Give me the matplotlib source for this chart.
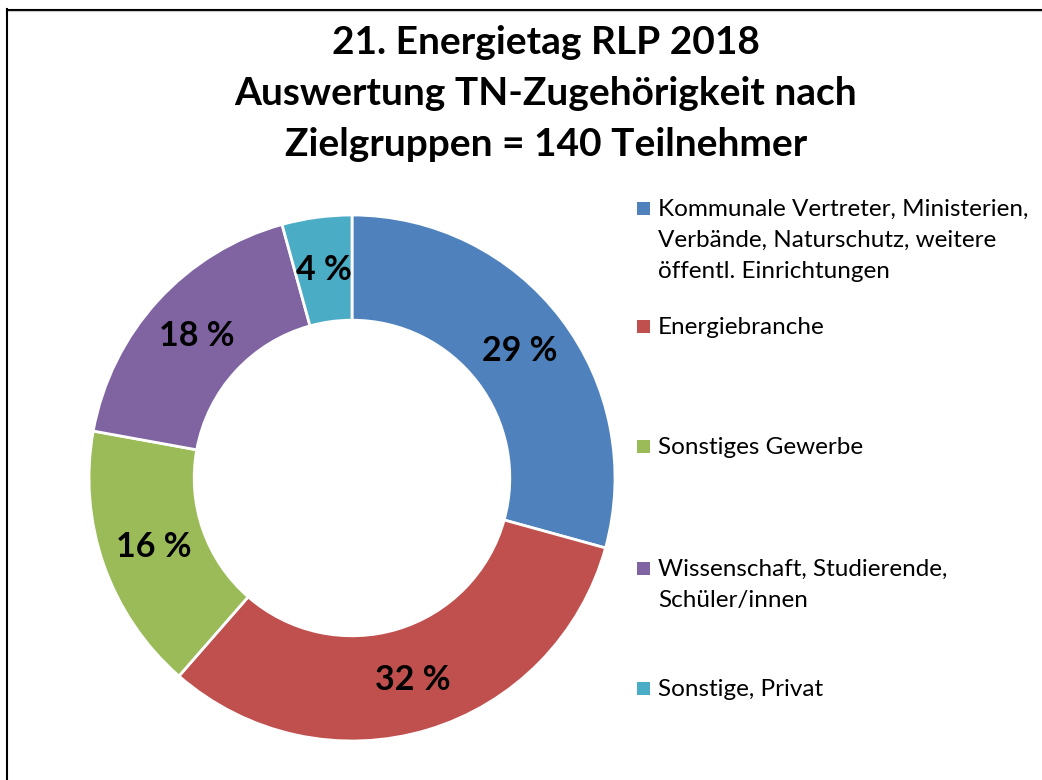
import matplotlib.pyplot as plt
from matplotlib.lines import Line2D
from matplotlib.patches import Rectangle

# ── data ─────────────────────────────────────────────
categories = [
    "Kommunale Vertreter, Ministerien,\nVerbände, Naturschutz, weitere\nöffentl. Einrichtungen",
    "Energiebranche",
    "Sonstiges Gewerbe",
    "Wissenschaft, Studierende,\nSchüler/innen",
    "Sonstige, Privat",
]
counts = [41, 45, 23, 25, 6]          # of 140 participants (read from shares)
colors = ["#4F81BD", "#C0504D", "#9BBB59", "#8064A2", "#4BACC6"]
title_lines = ["21. Energietag RLP 2018",
               "Auswertung TN-Zugehörigkeit nach",
               "Zielgruppen = 140 Teilnehmer"]

W, H = 1042, 780
fig = plt.figure(figsize=(W / 100, H / 100), dpi=100)
plt.rcParams["font.family"] = ["Lato", "DejaVu Sans"]

def fx(x):
    return x / W

def fy(y):
    return 1 - y / H

# ── donut ────────────────────────────────────────────
cx, cy, r = 352, 478, 263
ax = fig.add_axes([fx(cx - r), fy(cy + r), 2 * r / W, 2 * r / H])
ax.axis("off")
wedges, texts, autotexts = ax.pie(
    counts, colors=colors, startangle=90, counterclock=False,
    radius=1, pctdistance=0.8,
    autopct=lambda p: f"{p:.0f} %",
    wedgeprops=dict(width=0.4, edgecolor="white", linewidth=2),
    textprops=dict(fontsize=24.5, fontweight="bold", color="black"),
)
ax.set_xlim(-1, 1)
ax.set_ylim(-1, 1)

# ── title ────────────────────────────────────────────
for line, base in zip(title_lines, [54, 105, 156]):
    fig.text(fx(546), fy(base), line, ha="center", va="baseline",
             fontsize=28, fontweight="bold")

# ── legend ───────────────────────────────────────────
entry_y = [216, 334, 454, 576, 696]
for lab, col, by in zip(categories, colors, entry_y):
    fig.add_artist(Rectangle((fx(637), fy(by - 1)), 13 / W, 13 / H,
                             transform=fig.transFigure, facecolor=col,
                             edgecolor="none"))
    for i, ln in enumerate(lab.split("\n")):
        fig.text(fx(658), fy(by + i * 31), ln, ha="left", va="baseline",
                 fontsize=17.5)

# ── frame (top and left edges only) ──────────────────
fig.add_artist(Line2D([fx(6.8), 1], [fy(9.6), fy(9.6)], color="black",
                      lw=1.5, transform=fig.transFigure))
fig.add_artist(Line2D([fx(8), 1], [fy(11), fy(11)], color="#c8c8c8",
                      lw=0.8, transform=fig.transFigure))
fig.add_artist(Line2D([fx(6.8), fx(6.8)], [fy(9), 0], color="black",
                      lw=1.5, transform=fig.transFigure))

fig.savefig("out.png", dpi=100, facecolor="white")
